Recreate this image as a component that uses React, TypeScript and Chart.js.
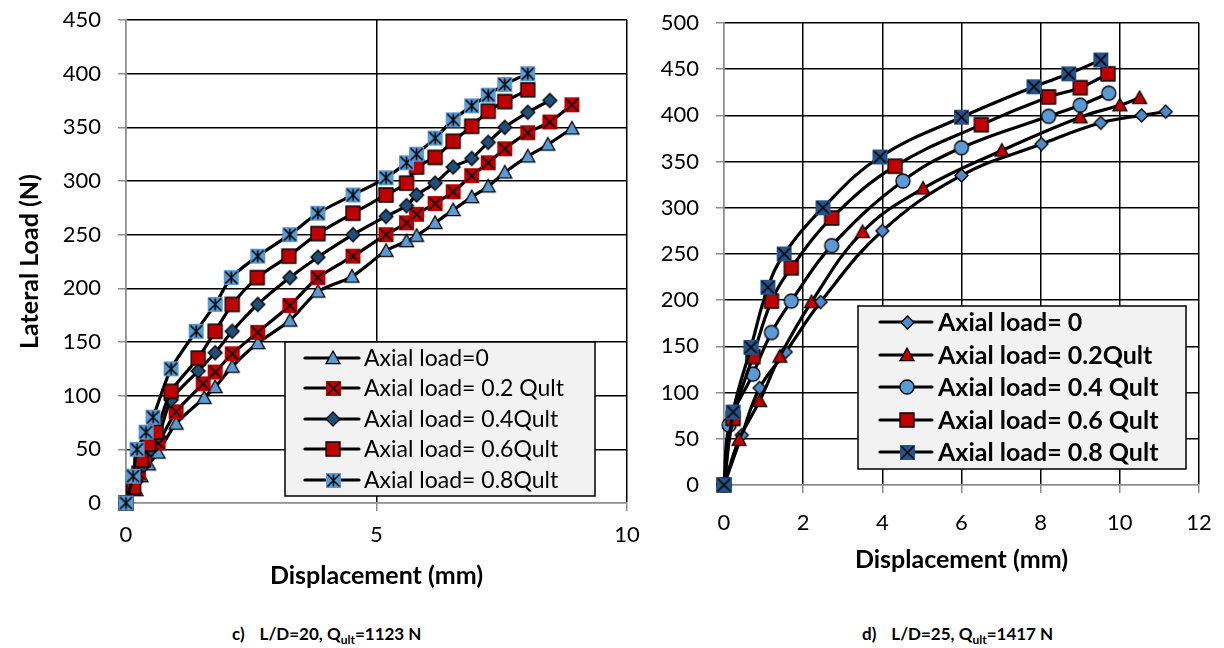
import React, { useEffect, useRef } from 'react';
import { Chart, registerables } from 'chart.js';
Chart.register(...registerables);

// ---------- DATA ----------
// Left chart: L/D=20
const leftLabels = ['Axial load=0', 'Axial load= 0.2 Qult', 'Axial load= 0.4Qult', 'Axial load= 0.6Qult', 'Axial load= 0.8Qult'];
const leftX0 = [0, 0.2, 0.3, 0.45, 0.64, 1.0, 1.56, 1.78, 2.12, 2.63, 3.27, 3.83, 4.51, 5.19, 5.6, 5.8, 6.17, 6.53, 6.9, 7.23, 7.56, 8.02, 8.42, 8.9];
const leftY0 = [0, 12, 25, 36, 47, 74, 98, 108, 127, 149, 170, 197, 211, 235, 244, 249, 261, 273, 285, 295, 308, 323, 334, 349];
const leftX02 = [0, 0.15, 0.25, 0.35, 0.64, 1.0, 1.54, 1.78, 2.12, 2.63, 3.27, 3.83, 4.53, 5.19, 5.6, 5.8, 6.17, 6.53, 6.9, 7.23, 7.56, 8.02, 8.46, 8.9];
const leftY02 = [0, 15, 28, 40, 56, 85, 111, 122, 139, 159, 184, 210, 230, 250, 261, 269, 279, 290, 305, 317, 330, 345, 355, 371];
const leftX04 = [0, 0.2, 0.35, 0.5, 0.65, 0.9, 1.44, 1.78, 2.12, 2.63, 3.27, 3.83, 4.53, 5.19, 5.6, 5.8, 6.17, 6.53, 6.9, 7.23, 7.56, 8.02, 8.46];
const leftY04 = [0, 20, 35, 50, 62, 96, 123, 140, 160, 185, 210, 229, 250, 267, 277, 287, 298, 313, 321, 336, 350, 364, 375];
const leftX06 = [0, 0.15, 0.3, 0.45, 0.6, 0.9, 1.44, 1.78, 2.12, 2.62, 3.25, 3.83, 4.53, 5.19, 5.6, 5.8, 6.17, 6.53, 6.9, 7.23, 7.56, 8.02];
const leftY06 = [0, 15, 40, 55, 66, 104, 135, 160, 185, 210, 230, 251, 270, 287, 298, 313, 322, 337, 351, 365, 374, 385];
const leftX08 = [0, 0.14, 0.22, 0.4, 0.54, 0.9, 1.4, 1.78, 2.1, 2.63, 3.27, 3.83, 4.53, 5.19, 5.6, 5.8, 6.17, 6.53, 6.9, 7.23, 7.56, 8.02];
const leftY08 = [0, 25, 50, 66, 80, 125, 160, 185, 210, 230, 250, 270, 287, 303, 317, 325, 340, 357, 370, 380, 390, 400];

// Right chart: L/D=25
const rightLabels = ['Axial load= 0', 'Axial load= 0.2Qult', 'Axial load= 0.4 Qult', 'Axial load= 0.6 Qult', 'Axial load= 0.8 Qult'];
const rightX0 = [0, 0.45, 0.9, 1.56, 2.44, 4.0, 6.0, 8.02, 9.52, 10.55, 11.16];
const rightY0 = [0, 54, 105, 144, 198, 275, 335, 369, 392, 400, 404];
const rightX02 = [0, 0.38, 0.9, 1.41, 2.21, 3.5, 5.03, 7.02, 9.0, 10.0, 10.5];
const rightY02 = [0, 49, 91, 139, 198, 274, 321, 362, 398, 411, 419];
const rightX04 = [0, 0.13, 0.73, 1.2, 1.7, 2.72, 4.52, 6.0, 8.2, 9.0, 9.72];
const rightY04 = [0, 65, 120, 165, 199, 259, 329, 365, 399, 411, 424];
const rightX06 = [0, 0.23, 0.73, 1.2, 1.7, 2.72, 4.32, 6.5, 8.2, 9.0, 9.7];
const rightY06 = [0, 72, 139, 199, 235, 289, 345, 390, 420, 430, 445];
const rightX08 = [0, 0.23, 0.68, 1.11, 1.52, 2.5, 3.94, 6.0, 7.83, 8.71, 9.52];
const rightY08 = [0, 79, 149, 214, 250, 300, 355, 398, 431, 445, 460];

const leftXTitle = 'Displacement (mm)';
const leftYTitle = 'Lateral Load (N)';
const rightXTitle = 'Displacement (mm)';

// ---------- STYLE ----------
const FONT = 'Lato, "Open Sans", sans-serif';
const LBLUE = '#5B9BD5';
const RED = '#C00000';
const DBLUE = '#1F4E79';

type Kind = 'triangle' | 'diamond' | 'square' | 'circle' | 'xsquare' | 'starsquare';

function makeMarker(kind: Kind, fill: string, size: number, stroke = true): HTMLCanvasElement {
  const pad = 3;
  const c = document.createElement('canvas');
  c.width = c.height = size + pad * 2;
  const g = c.getContext('2d')!;
  const cx = c.width / 2, cy = c.height / 2, h = size / 2;
  g.lineWidth = 1.3;
  g.strokeStyle = '#000';
  g.fillStyle = fill;
  g.lineJoin = 'miter';
  g.beginPath();
  if (kind === 'triangle') {
    g.moveTo(cx, cy - h);
    g.lineTo(cx + h, cy + h * 0.8);
    g.lineTo(cx - h, cy + h * 0.8);
    g.closePath();
    g.fill(); g.stroke();
  } else if (kind === 'diamond') {
    g.moveTo(cx, cy - h);
    g.lineTo(cx + h, cy);
    g.lineTo(cx, cy + h);
    g.lineTo(cx - h, cy);
    g.closePath();
    g.fill(); g.stroke();
  } else if (kind === 'square') {
    g.rect(cx - h, cy - h, size, size);
    g.fill(); g.stroke();
  } else if (kind === 'circle') {
    g.arc(cx, cy, h, 0, Math.PI * 2);
    g.fill(); g.stroke();
  } else {
    g.rect(cx - h, cy - h, size, size);
    g.fill();
    if (stroke) g.stroke();
    g.beginPath();
    const k = h * 0.8;
    g.moveTo(cx - k, cy - k); g.lineTo(cx + k, cy + k);
    g.moveTo(cx + k, cy - k); g.lineTo(cx - k, cy + k);
    if (kind === 'starsquare') { g.moveTo(cx, cy - k); g.lineTo(cx, cy + k); }
    g.lineWidth = 1.6;
    g.stroke();
  }
  return c;
}

const pts = (xs: number[], ys: number[]) => xs.map((x, i) => ({ x, y: ys[i] }));

const boxLegend = {
  id: 'boxLegend',
  afterDraw(chart: any, _args: any, o: any) {
    const ctx = chart.ctx;
    ctx.save();
    ctx.fillStyle = '#F2F2F2';
    ctx.fillRect(o.x, o.y, o.w, o.h);
    ctx.lineWidth = 1.5;
    ctx.strokeStyle = '#000';
    ctx.strokeRect(o.x, o.y, o.w, o.h);
    chart.data.datasets.forEach((ds: any, i: number) => {
      const y = o.rows[i];
      ctx.beginPath();
      ctx.moveTo(o.lx0, y);
      ctx.lineTo(o.lx1, y);
      ctx.lineWidth = 3.2;
      ctx.lineCap = 'round';
      ctx.strokeStyle = '#000';
      ctx.stroke();
      const img = ds.pointStyle;
      ctx.drawImage(img, Math.round(o.mx - img.width / 2), Math.round(y - img.height / 2));
      ctx.font = o.font;
      ctx.fillStyle = '#000';
      ctx.textBaseline = 'middle';
      ctx.textAlign = 'left';
      ctx.fillText(ds.label, o.tx, y + 1);
    });
    ctx.restore();
  },
};

function gridColor(c: any) {
  return c.tick && c.tick.value === 0 ? '#8C8C8C' : '#000';
}

function axis(min: number, max: number, step: number, tickPad: number, extra: any) {
  return {
    type: 'linear',
    min, max,
    ticks: { stepSize: step, color: '#000', padding: tickPad, font: { family: FONT, size: 22 } },
    grid: { color: gridColor, lineWidth: 1.5, tickLength: 8, tickColor: '#8C8C8C', drawTicks: true },
    border: { display: true, color: '#8C8C8C', width: 1.5 },
    ...extra,
  };
}

function fixSize(prop: 'width' | 'height', v: number) {
  return (s: any) => {
    s[prop] = v;
    s.paddingTop = 0; s.paddingBottom = 0; s.paddingLeft = 0; s.paddingRight = 0;
  };
}

function dataset(label: string, data: any[], marker: HTMLCanvasElement, order: number, tension: number) {
  return {
    label,
    data,
    showLine: true,
    borderColor: '#000',
    borderWidth: 3.2,
    backgroundColor: '#000',
    pointStyle: marker,
    pointRadius: 7,
    tension,
    clip: false,
    order,
  };
}

const titleFont = { family: FONT, size: 25, weight: 'bold' as const };

function leftConfig(): any {
  const markers = [
    makeMarker('triangle', LBLUE, 14),
    makeMarker('xsquare', RED, 15, false),
    makeMarker('diamond', DBLUE, 14),
    makeMarker('square', RED, 14),
    makeMarker('starsquare', LBLUE, 15, false),
  ];
  const series = [pts(leftX0, leftY0), pts(leftX02, leftY02), pts(leftX04, leftY04), pts(leftX06, leftY06), pts(leftX08, leftY08)];
  return {
    type: 'scatter',
    data: { datasets: series.map((d, i) => dataset(leftLabels[i], d, markers[i], 4 - i, 0.25)) },
    plugins: [boxLegend],
    options: {
      responsive: false,
      animation: false,
      layout: { padding: { left: 0, right: 13, top: 20, bottom: 0 } },
      plugins: {
        legend: { display: false },
        tooltip: { enabled: false },
        boxLegend: {
          x: 285, y: 342, w: 310, h: 154,
          rows: [358, 388, 419, 449, 480],
          lx0: 305, lx1: 359, mx: 333, tx: 364,
          font: `23px ${FONT}`,
        },
      },
      scales: {
        x: axis(0, 10, 5, 11, {
          title: { display: true, text: leftXTitle, color: '#000', font: titleFont, padding: { top: 0, bottom: 9 } },
          afterFit: fixSize('height', 97),
        }),
        y: axis(0, 450, 50, 17, {
          title: { display: true, text: leftYTitle, color: '#000', font: titleFont, padding: { top: 15, bottom: 0 } },
          afterFit: fixSize('width', 126),
        }),
      },
    },
  };
}

function rightConfig(): any {
  const markers = [
    makeMarker('diamond', '#4F8BCB', 13),
    makeMarker('triangle', RED, 14),
    makeMarker('circle', LBLUE, 14),
    makeMarker('square', RED, 14),
    makeMarker('xsquare', '#24548A', 15, false),
  ];
  const series = [pts(rightX0, rightY0), pts(rightX02, rightY02), pts(rightX04, rightY04), pts(rightX06, rightY06), pts(rightX08, rightY08)];
  const off = 620;
  return {
    type: 'scatter',
    data: { datasets: series.map((d, i) => dataset(rightLabels[i], d, markers[i], 4 - i, 0.4)) },
    plugins: [boxLegend],
    options: {
      responsive: false,
      animation: false,
      layout: { padding: { left: 0, right: 25, top: 23, bottom: 0 } },
      plugins: {
        legend: { display: false },
        tooltip: { enabled: false },
        boxLegend: {
          x: 858 - off, y: 306, w: 328, h: 163,
          rows: [322, 355, 387, 420, 452],
          lx0: 880 - off, lx1: 932 - off, mx: 907 - off, tx: 938 - off,
          font: `bold 25px ${FONT}`,
        },
      },
      scales: {
        x: axis(0, 12, 2, 17, {
          title: { display: true, text: rightXTitle, color: '#000', font: titleFont, padding: { top: 0, bottom: 25 } },
          afterFit: fixSize('height', 115),
        }),
        y: axis(0, 500, 50, 17, {
          afterFit: fixSize('width', 104),
        }),
      },
    },
  };
}

function ChartBox({ make, left, width, height }: { make: () => any; left: number; width: number; height: number }) {
  const ref = useRef<HTMLCanvasElement>(null);
  useEffect(() => {
    const chart = new Chart(ref.current!, make());
    return () => chart.destroy();
  }, []);
  return (
    <div style={{ position: 'absolute', left, top: 0, width, height }}>
      <canvas ref={ref} width={width} height={height} style={{ width, height, display: 'block' }} />
    </div>
  );
}

const captionStyle: React.CSSProperties = {
  position: 'absolute',
  top: 622,
  fontFamily: FONT,
  fontWeight: 'bold',
  fontSize: 17,
  lineHeight: '24px',
  color: '#000',
  whiteSpace: 'nowrap',
};
const subStyle: React.CSSProperties = { fontSize: 12, verticalAlign: 'baseline', position: 'relative', top: 4 };

export default function App() {
  return (
    <div style={{ position: 'absolute', left: 0, top: 0, width: 1224, height: 648, background: '#fff', overflow: 'hidden' }}>
      <ChartBox make={leftConfig} left={0} width={640} height={600} />
      <ChartBox make={rightConfig} left={620} width={604} height={600} />
      <div style={{ ...captionStyle, left: 232 }}>
        c)<span style={{ marginLeft: 15 }}>L/D=20, Q<span style={subStyle}>ult</span>=1123 N</span>
      </div>
      <div style={{ ...captionStyle, left: 862 }}>
        d)<span style={{ marginLeft: 15 }}>L/D=25, Q<span style={subStyle}>ult</span>=1417 N</span>
      </div>
    </div>
  );
}
